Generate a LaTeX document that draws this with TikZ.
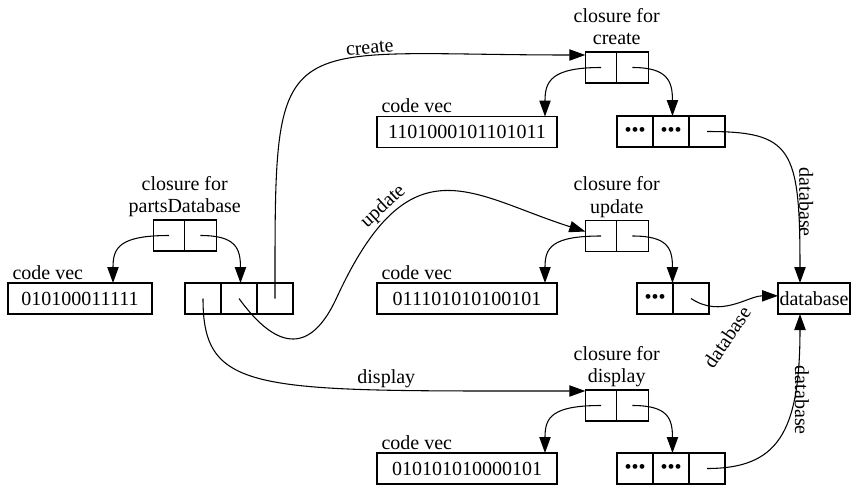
\documentclass[tikz,border=0pt]{standalone}
\usepackage{fontspec}
\setmainfont{Liberation Serif}
\usetikzlibrary{positioning,arrows.meta}

\tikzset{
  cell/.style={draw, outer sep=0pt, inner sep=0pt, minimum height=23.25pt},
  clo/.style={cell, minimum width=23.6pt},
  dat/.style={cell, minimum width=27pt},
  vec/.style={cell, minimum width=#1},
  ptr/.style={-{Triangle[length=12pt,width=8.5pt]}},
  lab/.style={inner sep=1pt},
  cvlabel/.style={anchor=base west, inner sep=0pt},
  clolabel/.style={anchor=south, align=center, inner sep=0pt},
}

\begin{document}
\begin{tikzpicture}[x=0.75pt, y=-0.75pt, line width=0.8pt, font=\fontsize{15pt}{17pt}\selectfont]
\useasboundingbox (0,0) rectangle (851,486);

% closure for partsDatabase
\node[clo] (pcl) at (169,235.5) {};
\node[clo, right=0pt of pcl] (pcr) {};
\node[clolabel] (pname) at (pcl.north east) {closure for\\partsDatabase\strut};
\node[vec=108pt] (pcv) at (80,298.5) {010100011111};
\node[cvlabel] (pcvl) at ([shift={(3pt,3pt)}]pcv.north west) {code vec};
\node[dat] (pd1) at (203,298.5) {};
\node[dat, right=0pt of pd1] (pd2) {};
\node[dat, right=0pt of pd2] (pd3) {};

% closure for create
\node[clo] (ccl) at (601,67.5) {};
\node[clo, right=0pt of ccl] (ccr) {};
\node[clolabel] (cname) at (ccl.north east) {closure for\\create\strut};
\node[vec=135pt] (ccv) at (467,132) {1101000101101011};
\node[cvlabel] (ccvl) at ([shift={(3pt,3pt)}]ccv.north west) {code vec};
\node[dat] (cd1) at (635,131.5) {\textbullet\textbullet\textbullet};
\node[dat, right=0pt of cd1] (cd2) {\textbullet\textbullet\textbullet};
\node[dat, right=0pt of cd2] (cd3) {};

% closure for update
\node[clo] (ucl) at (601,236) {};
\node[clo, right=0pt of ucl] (ucr) {};
\node[clolabel] (uname) at (ucl.north east) {closure for\\update\strut};
\node[vec=135pt] (ucv) at (467,298.5) {011101010100101};
\node[cvlabel] (ucvl) at ([shift={(3pt,3pt)}]ucv.north west) {code vec};
\node[dat] (ud1) at (655,298.5) {\textbullet\textbullet\textbullet};
\node[dat, right=0pt of ud1] (ud2) {};

% closure for display
\node[clo] (dcl) at (601,405.5) {};
\node[clo, right=0pt of dcl] (dcr) {};
\node[clolabel] (dname) at (dcl.north east) {closure for\\display\strut};
\node[vec=135pt] (dcv) at (467,468.5) {010101010000101};
\node[cvlabel] (dcvl) at ([shift={(3pt,3pt)}]dcv.north west) {code vec};
\node[dat] (dd1) at (635,468.5) {\textbullet\textbullet\textbullet};
\node[dat, right=0pt of dd1] (dd2) {\textbullet\textbullet\textbullet};
\node[dat, right=0pt of dd2] (dd3) {};

% shared environment
\node[cell, minimum width=54pt] (db) at (814,298.5) {database};

% code and environment pointers of each closure
\draw[ptr] (pcl.center) .. controls +(-50,0) and +(0,-35) .. ([xshift=-42pt]pcl.center |- pcv.north);
\draw[ptr] (pcr.center) .. controls +(35,0) and +(0,-35) .. ([xshift=30pt]pcr.center |- pd1.north);
\draw[ptr] (ccl.center) .. controls +(-50,0) and +(0,-35) .. ([xshift=-42pt]ccl.center |- ccv.north);
\draw[ptr] (ccr.center) .. controls +(35,0) and +(0,-35) .. ([xshift=30pt]ccr.center |- cd1.north);
\draw[ptr] (ucl.center) .. controls +(-50,0) and +(0,-35) .. ([xshift=-42pt]ucl.center |- ucv.north);
\draw[ptr] (ucr.center) .. controls +(35,0) and +(0,-35) .. ([xshift=30pt]ucr.center |- ud1.north);
\draw[ptr] (dcl.center) .. controls +(-50,0) and +(0,-35) .. ([xshift=-42pt]dcl.center |- dcv.north);
\draw[ptr] (dcr.center) .. controls +(35,0) and +(0,-35) .. ([xshift=30pt]dcr.center |- dd1.north);

% the three procedures
\draw[ptr] (pd3.center) .. controls +(0,-278) and +(-315,0) .. ([yshift=-2.25pt]ccl.north west)
  node[pos=0.68, above, sloped, lab] (lcreate) {create};
\coordinate (ubend) at (337,297);
\draw[ptr] (pd2.center) .. controls +(40,55) and +(-25,55) .. (ubend)
  .. controls +(73.5,-159) and +(-114,-36) .. ([yshift=-8.25pt]ucl.north west)
  node[pos=0.25, above, sloped, lab] (lupdate) {update};
\draw[ptr] (pd1.center) .. controls +(0,96) and +(-330,0) .. ([yshift=-0.75pt]dcl.north west)
  node[pos=0.75, above, lab] (ldisplay) {display};

% links to the database
\draw[ptr] (cd3.center) .. controls +(85,0) and +(0,-135) .. ([xshift=-10.5pt]db.north)
  node[pos=0.75, rotate=-90, anchor=south, lab] (lcdb) {database};
\draw[ptr] (ud2.center) .. controls +(30,20) and +(-30,0) .. ([yshift=2pt]db.west);
\node[rotate=56] (ludb) at (727,337) {database};
\draw[ptr] (dd3.center) .. controls +(70,0) and +(0,120) .. ([xshift=-10.5pt]db.south)
  node[pos=0.7, rotate=-90, anchor=south, lab] (lddb) {database};
\end{tikzpicture}
\end{document}
